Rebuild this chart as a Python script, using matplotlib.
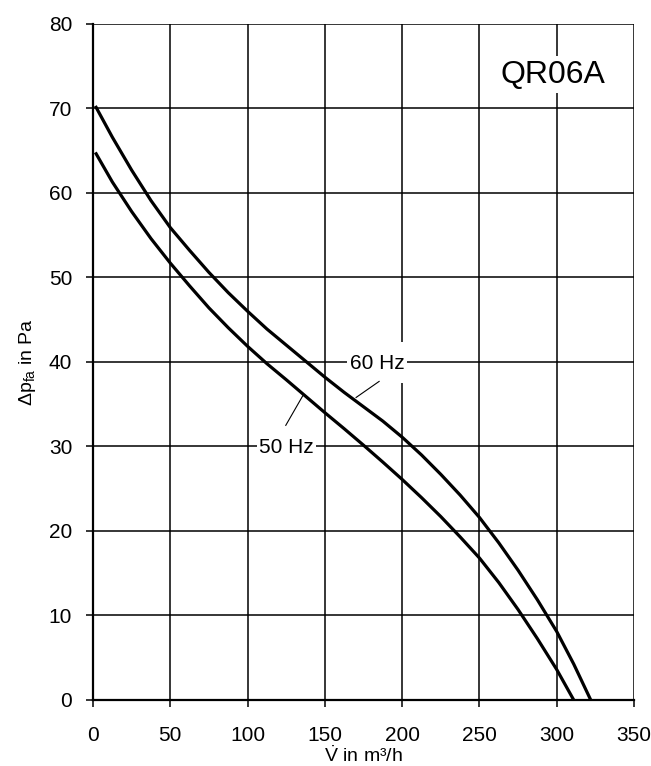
import numpy as np
import matplotlib
matplotlib.use("Agg")
import matplotlib.pyplot as plt
from matplotlib.patches import Rectangle

plt.rcParams["font.family"] = ["Liberation Sans", "DejaVu Sans"]
plt.rcParams["mathtext.fontset"] = "custom"
plt.rcParams["mathtext.rm"] = "Liberation Sans"
plt.rcParams["mathtext.it"] = "Liberation Sans:italic"

# -----------------------------
# curve data
# -----------------------------
flow_60 = [1.5, 12.5, 25, 37.5, 50, 62.5, 75, 87.5, 100, 112.5, 125, 137.5, 150, 162.5, 175,
           187.5, 200, 212.5, 225, 237.5, 250, 262.5, 275, 287.5, 300, 311, 322]
dp_60 = [70.3, 66.6, 62.7, 59.1, 55.9, 53.2, 50.6, 48.2, 46.0, 43.9, 42.0, 40.1, 38.2, 36.4, 34.7,
         33.0, 31.1, 29.0, 26.7, 24.25, 21.6, 18.6, 15.35, 11.85, 8.1, 4.25, 0.0]

flow_50 = [1.5, 12.5, 25, 37.5, 50, 62.5, 75, 87.5, 100, 112.5, 125, 137.5, 150, 162.5, 175,
           187.5, 200, 212.5, 225, 237.5, 250, 262.5, 275, 287.5, 300, 311]
dp_50 = [64.8, 61.3, 57.8, 54.6, 51.7, 49.0, 46.4, 44.05, 41.85, 39.8, 37.9, 35.95, 34.0, 32.1, 30.15,
         28.15, 26.1, 23.95, 21.7, 19.3, 16.8, 13.9, 10.7, 7.25, 3.6, 0.0]

x_ticks = [0, 50, 100, 150, 200, 250, 300, 350]
y_ticks = [0, 10, 20, 30, 40, 50, 60, 70, 80]

fig = plt.figure(figsize=(6.51, 7.66), dpi=100)
ax = fig.add_axes([0.1429, 0.0862, 0.831, 0.8825])

ax.set_xlim(0, 350)
ax.set_ylim(0, 80)
ax.set_xticks(x_ticks)
ax.set_yticks(y_ticks)
ax.grid(True, color="black", linewidth=1.1)
ax.set_axisbelow(True)

for s in ["top", "right"]:
    ax.spines[s].set_visible(False)
ax.spines["left"].set_linewidth(1.6)
ax.spines["bottom"].set_linewidth(1.6)
ax.tick_params(direction="out", length=5, width=1.1, labelsize=15, pad=10)
ax.tick_params(axis="x", pad=14)

ax.plot(flow_60, dp_60, color="black", linewidth=2.3, zorder=4,
        solid_joinstyle="round", solid_capstyle="butt")
ax.plot(flow_50, dp_50, color="black", linewidth=2.3, zorder=4,
        solid_joinstyle="round", solid_capstyle="butt")

# label boxes (white, hide the grid)
ax.add_patch(Rectangle((164.5, 37.5), 38.8, 4.9, facecolor="white", edgecolor="none", zorder=2))
ax.add_patch(Rectangle((106, 27.5), 38.3, 4.9, facecolor="white", edgecolor="none", zorder=2))
ax.text(183.8, 39.8, "60 Hz", fontsize=15, ha="center", va="center", zorder=3)
ax.text(124.9, 29.9, "50 Hz", fontsize=15, ha="center", va="center", zorder=3)
ax.plot([185.1, 170.2], [37.7, 35.8], color="black", linewidth=0.8, zorder=3)
ax.plot([135.7, 124.7], [36.0, 32.5], color="black", linewidth=0.8, zorder=3)

ax.text(297.7, 74.0, "QR06A", fontsize=23, ha="center", va="center", zorder=3,
        bbox=dict(boxstyle="square,pad=0.1", facecolor="white", edgecolor="none"))

ax.set_xlabel(r"$\dot{\mathrm{V}}$ in m³/h", fontsize=14, labelpad=0)
ax.set_ylabel(r"Δp$_{\mathrm{fa}}$ in Pa", fontsize=14, labelpad=8)

fig.savefig("out.png", dpi=100)
